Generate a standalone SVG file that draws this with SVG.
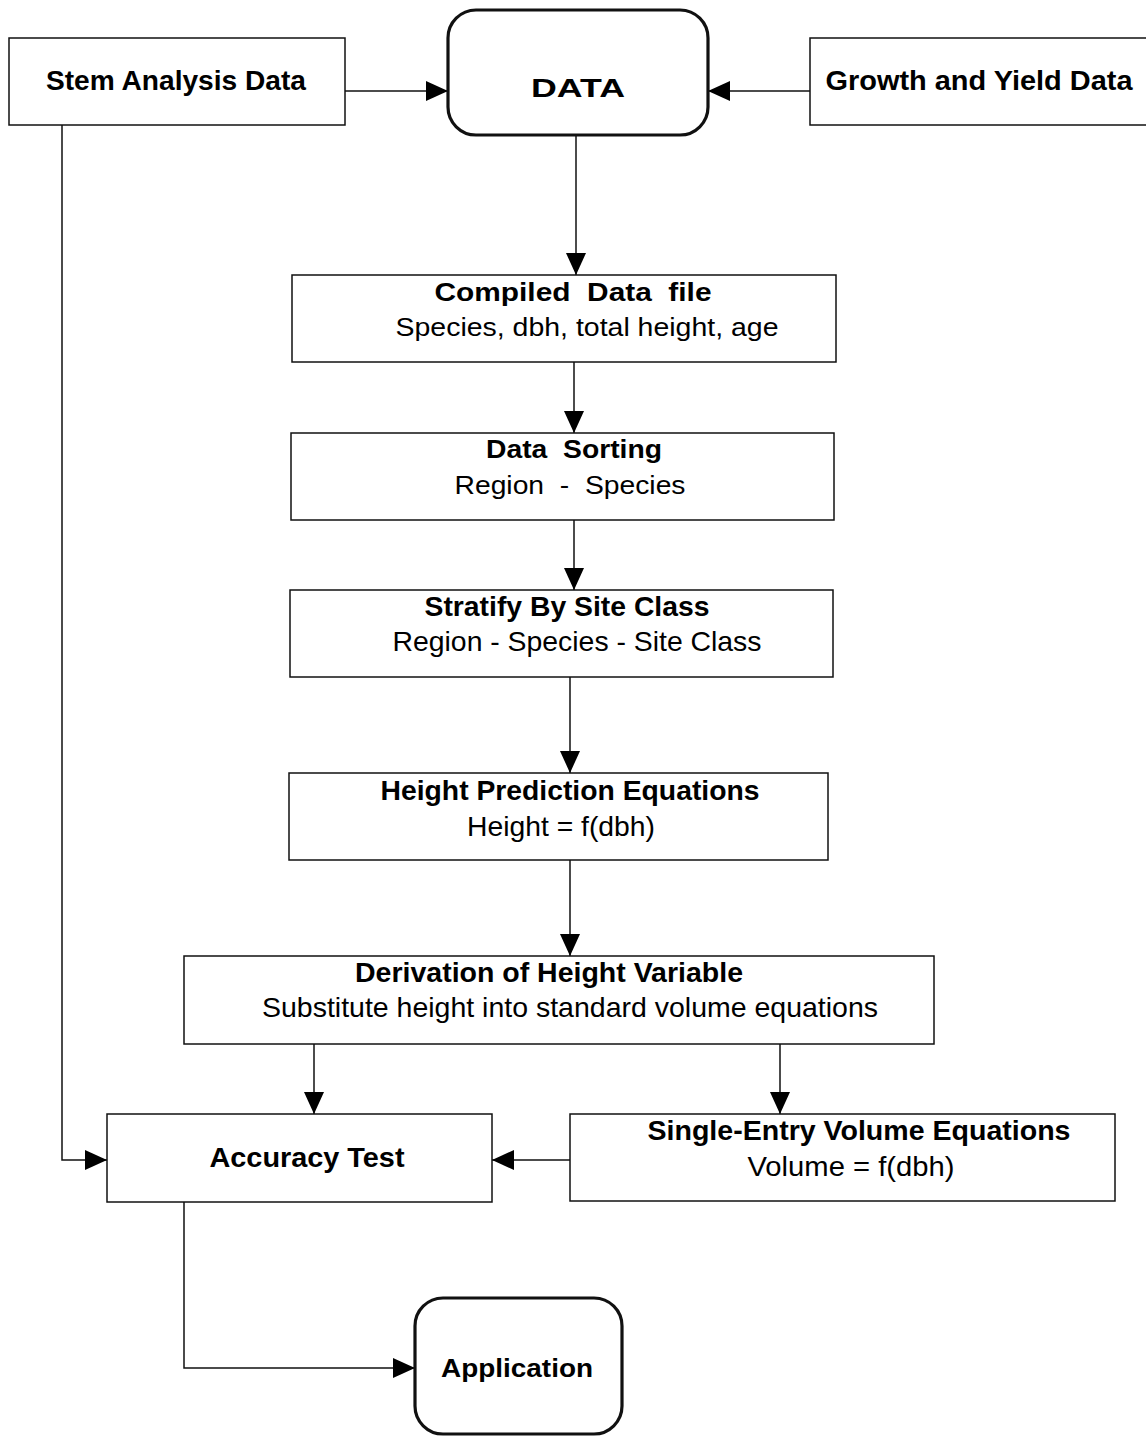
<svg xmlns="http://www.w3.org/2000/svg" width="1146" height="1437" viewBox="0 0 1146 1437">
<style>
.box{fill:#fff;stroke:#111;stroke-width:1.5}
.rbox{fill:#fff;stroke:#111;stroke-width:3.2}
.t{font-family:"Liberation Sans",Arial,sans-serif;font-size:26px;fill:#000;text-anchor:middle}
.n{font-size:28px}
.b{font-weight:bold}
.c{fill:none;stroke:#111;stroke-width:1.5}
</style>
<defs>
<marker id="ah" markerUnits="userSpaceOnUse" markerWidth="22" markerHeight="20" refX="22" refY="10" orient="auto">
<path d="M0,0 L22,10 L0,20 z" fill="#000"/>
</marker>
</defs>
<rect width="1146" height="1437" fill="#fff"/>
<g id="connectors">
<line class="c" x1="345" y1="91" x2="448" y2="91" marker-end="url(#ah)"/>
<line class="c" x1="810" y1="91" x2="708" y2="91" marker-end="url(#ah)"/>
<line class="c" x1="576" y1="135" x2="576" y2="275" marker-end="url(#ah)"/>
<line class="c" x1="574" y1="362" x2="574" y2="433" marker-end="url(#ah)"/>
<line class="c" x1="574" y1="520" x2="574" y2="590" marker-end="url(#ah)"/>
<line class="c" x1="570" y1="677" x2="570" y2="773" marker-end="url(#ah)"/>
<line class="c" x1="570" y1="860" x2="570" y2="956" marker-end="url(#ah)"/>
<line class="c" x1="314" y1="1044" x2="314" y2="1114" marker-end="url(#ah)"/>
<line class="c" x1="780" y1="1044" x2="780" y2="1114" marker-end="url(#ah)"/>
<line class="c" x1="570" y1="1160" x2="492" y2="1160" marker-end="url(#ah)"/>
<polyline class="c" points="62,125 62,1160 107,1160" marker-end="url(#ah)"/>
<polyline class="c" points="184,1202 184,1368 415,1368" marker-end="url(#ah)"/>
</g>
<g id="stem">
<rect class="box" x="9" y="38" width="336" height="87"/>
<text class="t b n" x="176" y="90" textLength="260" lengthAdjust="spacingAndGlyphs">Stem Analysis Data</text>
</g>
<g id="data">
<rect class="rbox" x="448" y="10" width="260" height="125" rx="28"/>
<text class="t b" x="578" y="97" font-size="36" textLength="94" lengthAdjust="spacingAndGlyphs">DATA</text>
</g>
<g id="growth">
<rect class="box" x="810" y="38" width="345" height="87"/>
<text class="t b n" x="979" y="90" textLength="307" lengthAdjust="spacingAndGlyphs">Growth and Yield Data</text>
</g>
<g id="compiled">
<rect class="box" x="292" y="275" width="544" height="87"/>
<text class="t b" x="573" y="301" textLength="277" lengthAdjust="spacingAndGlyphs" xml:space="preserve">Compiled  Data  file</text>
<text class="t" x="587" y="336" textLength="383" lengthAdjust="spacingAndGlyphs">Species, dbh, total height, age</text>
</g>
<g id="sorting">
<rect class="box" x="291" y="433" width="543" height="87"/>
<text class="t b" x="574" y="458" textLength="176" lengthAdjust="spacingAndGlyphs" xml:space="preserve">Data  Sorting</text>
<text class="t" x="570" y="494" textLength="231" lengthAdjust="spacingAndGlyphs" xml:space="preserve">Region  -  Species</text>
</g>
<g id="stratify">
<rect class="box" x="290" y="590" width="543" height="87"/>
<text class="t b n" x="567" y="616" textLength="285" lengthAdjust="spacingAndGlyphs">Stratify By Site Class</text>
<text class="t n" x="577" y="651" textLength="369" lengthAdjust="spacingAndGlyphs">Region - Species - Site Class</text>
</g>
<g id="height">
<rect class="box" x="289" y="773" width="539" height="87"/>
<text class="t b n" x="570" y="800" textLength="379" lengthAdjust="spacingAndGlyphs">Height Prediction Equations</text>
<text class="t n" x="561" y="836" textLength="188" lengthAdjust="spacingAndGlyphs">Height = f(dbh)</text>
</g>
<g id="derivation">
<rect class="box" x="184" y="956" width="750" height="88"/>
<text class="t b n" x="549" y="982" textLength="388" lengthAdjust="spacingAndGlyphs">Derivation of Height Variable</text>
<text class="t n" x="570" y="1017" textLength="616" lengthAdjust="spacingAndGlyphs">Substitute height into standard volume equations</text>
</g>
<g id="accuracy">
<rect class="box" x="107" y="1114" width="385" height="88"/>
<text class="t b n" x="307" y="1167" textLength="195" lengthAdjust="spacingAndGlyphs">Accuracy Test</text>
</g>
<g id="single">
<rect class="box" x="570" y="1114" width="545" height="87"/>
<text class="t b n" x="859" y="1140" textLength="423" lengthAdjust="spacingAndGlyphs">Single-Entry Volume Equations</text>
<text class="t n" x="851" y="1176" textLength="207" lengthAdjust="spacingAndGlyphs">Volume = f(dbh)</text>
</g>
<g id="application">
<rect class="rbox" x="415" y="1298" width="207" height="136" rx="28"/>
<text class="t b" x="517" y="1377" textLength="152" lengthAdjust="spacingAndGlyphs">Application</text>
</g>
</svg>
